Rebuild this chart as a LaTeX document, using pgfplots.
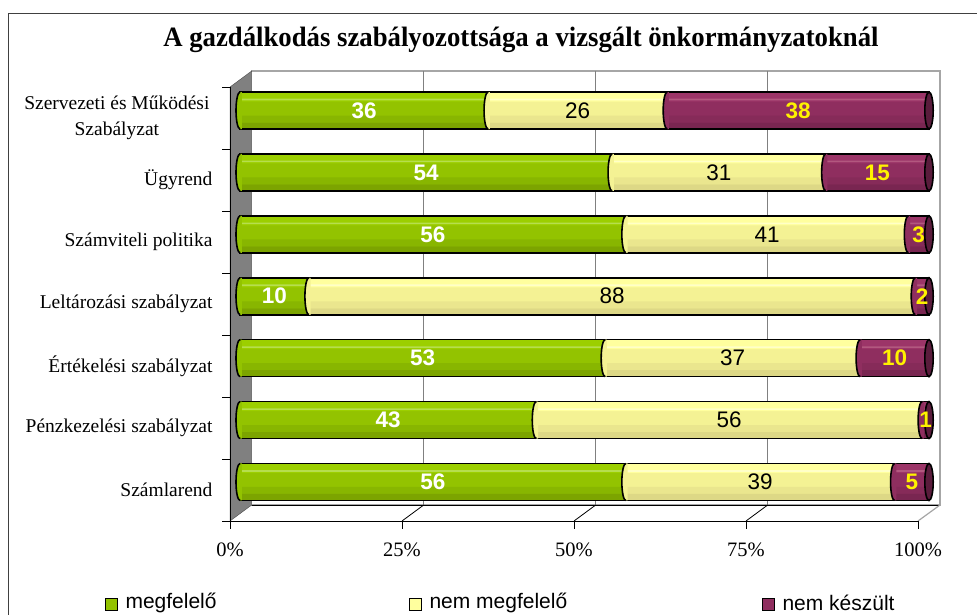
\documentclass[border=0pt]{standalone}
\usepackage{fontspec}
\setmainfont{Liberation Serif}
\setsansfont{Liberation Sans}
\usepackage{graphicx}
\usepackage{pgfplots}
\usepackage{pgfplotstable}
\pgfplotsset{compat=1.18}

% green
\definecolor{g1}{HTML}{9CCF00}
\definecolor{gh}{HTML}{B6DE4E}
\definecolor{g2}{HTML}{93C300}
\definecolor{g3}{HTML}{88B600}
\definecolor{g4}{HTML}{7CA400}
% yellow
\definecolor{y1}{HTML}{FFFF9E}
\definecolor{yh}{HTML}{FFFFC8}
\definecolor{y2}{HTML}{F4F294}
\definecolor{y3}{HTML}{EAE68E}
\definecolor{y4}{HTML}{DDD886}
% purple
\definecolor{p1}{HTML}{9C3568}
\definecolor{ph}{HTML}{B2587F}
\definecolor{p2}{HTML}{8F2E5F}
\definecolor{p3}{HTML}{862B59}
\definecolor{p4}{HTML}{792651}
\definecolor{capc}{HTML}{5A1C3C}
\definecolor{wallc}{HTML}{808080}
\definecolor{bwall}{HTML}{A6A6A6}

\pgfdeclareplotmark{lcap}{%
  \pgfpathmoveto{\pgfqpoint{1.8pt}{18.5pt}}%
  \pgfpathlineto{\pgfqpoint{0pt}{18.5pt}}%
  \pgfpatharc{90}{270}{4pt and 18.5pt}%
  \pgfpathlineto{\pgfqpoint{1.8pt}{-18.5pt}}%
  \pgfpathclose
  \pgfusepathqfill
  \pgfpathmoveto{\pgfqpoint{0pt}{18.5pt}}%
  \pgfpatharc{90}{270}{4pt and 18.5pt}%
  \pgfusepathqstroke
}
\pgfdeclareplotmark{rcap}{%
  \pgfpathellipse{\pgfpointorigin}{\pgfqpoint{4.2pt}{0pt}}{\pgfqpoint{0pt}{18.5pt}}%
  \pgfusepathqfillstroke
}

\pgfplotstableread{
y a b c
7 36 26 38
6 54 31 15
5 56 41 3
4 10 88 2
3 53 37 10
2 43 56 1
1 56 39 5
}\datatab

\pgfplotsset{
  geom/.style={
    at={(240pt,101.05pt)}, anchor=south west,
    scale only axis, width=689pt, height=433.4pt,
    xmin=0, xmax=100, ymin=0.5, ymax=7.5,
    hide axis, clip=false,
  }
}

\newcommand{\bandaxis}[5]{%
\begin{axis}[geom, xbar stacked, bar width=#1, bar shift=#2]
  \addplot[draw=none, fill=#3] table[x=a, y=y] {\datatab};
  \addplot[draw=none, fill=#4] table[x=b, y=y] {\datatab};
  \addplot[draw=none, fill=#5] table[x=c, y=y] {\datatab};
\end{axis}}

\begin{document}
\begin{tikzpicture}
\path[use as bounding box] (0,0) rectangle (977pt,614pt);
\begin{scope}[x=1pt, y=-1pt, yshift=614pt]
  % outer border
  \draw[black!75, line width=1pt] (8,620) -- (8,14) -- (980,14);
  % back wall
  \draw[bwall, line width=1.5pt, fill=white] (251.7,71) rectangle (940,505);
  \foreach \gx in {423.7,595.7,767.7} {
    \draw[wallc, line width=1pt] (\gx,71) -- (\gx,505);
  }
  % side wall
  \draw[black!70, fill=wallc] (230,87) -- (251.7,71) -- (251.7,505) -- (230,521) -- cycle;
  % floor
  \draw[black, line width=0.8pt] (251.7,505) -- (940,505);
  \draw[bwall, line width=1.2pt] (940,505) -- (918,521);
  \foreach \i in {1,2,3} {
    \draw[black, line width=0.8pt] ({230+172*\i},521) -- ({251.7+172*\i},505);
  }
  \draw[black, line width=0.8pt] (230,521) -- (918,521);
  \draw[black, line width=0.8pt] (230,87) -- (230,521);
  \foreach \k in {0,...,7} {
    \draw[black, line width=0.8pt] (222,{87+62*\k}) -- (230,{87+62*\k});
  }
  \foreach \i/\lab in {0/0\%,1/25\%,2/50\%,3/75\%,4/100\%} {
    \draw[black, line width=0.8pt] ({230+172*\i},521) -- ({230+172*\i},529);
    \node[font=\fontsize{20.5}{22}\selectfont, anchor=center] at ({230+172*\i},550) {\lab};
  }
  % category labels
  \node[font=\fontsize{19.5}{26.5}\selectfont, align=center, anchor=east] at (213,118) {Szervezeti és Működési\\Szabályzat};
  \node[font=\fontsize{19.5}{22}\selectfont, anchor=east] at (216,180) {Ügyrend};
  \node[font=\fontsize{19.5}{22}\selectfont, anchor=east] at (216,242) {Számviteli politika};
  \node[font=\fontsize{19.5}{22}\selectfont, anchor=east] at (216,304) {Leltározási szabályzat};
  \node[font=\fontsize{19.5}{22}\selectfont, anchor=east] at (216,366) {Értékelési szabályzat};
  \node[font=\fontsize{19.5}{22}\selectfont, anchor=east] at (216,428) {Pénzkezelési szabályzat};
  \node[font=\fontsize{19.5}{22}\selectfont, anchor=east] at (216,490) {Számlarend};
  % title
  \node[font=\bfseries\fontsize{28}{30}\selectfont, anchor=center] at (521,40) {\scalebox{0.955}[1]{A gazdálkodás szabályozottsága a vizsgált önkormányzatoknál}};
  % legend
  \draw[black, line width=1pt, fill=g2] (105,598) rectangle (117,610);
  \node[font=\sffamily\fontsize{21}{23}\selectfont, anchor=west] at (122,603) {megfelelő};
  \draw[black, line width=1pt, fill=y1] (409,598) rectangle (421,610);
  \node[font=\sffamily\fontsize{21}{23}\selectfont, anchor=west] at (426,603) {nem megfelelő};
  \draw[black, line width=1pt, fill=p2] (762,598) rectangle (774,610);
  \node[font=\sffamily\fontsize{21}{23}\selectfont, anchor=west] at (779,603) {nem készült};
\end{scope}

% bars in horizontal bands (cylinder look)
\bandaxis{37pt}{0pt}{g2}{y2}{p2}
\bandaxis{9.5pt}{13.75pt}{g1}{y1}{p1}
\bandaxis{1.6pt}{11pt}{gh}{yh}{ph}
\bandaxis{7pt}{-8.5pt}{g3}{y3}{p3}
\bandaxis{6.5pt}{-15.25pt}{g4}{y4}{p4}

% outline and caps
\begin{axis}[geom]
  \addplot[xbar, bar width=37pt, draw=black, fill=none, line width=1.6pt]
    coordinates {(100,1) (100,2) (100,3) (100,4) (100,5) (100,6) (100,7)};
  \addplot[only marks, mark=lcap, mark options={fill=g2, draw=black, line width=1.6pt}]
    coordinates {(0,1) (0,2) (0,3) (0,4) (0,5) (0,6) (0,7)};
  \addplot[only marks, mark=rcap, mark options={fill=capc, draw=black, line width=1.6pt}]
    coordinates {(100,1) (100,2) (100,3) (100,4) (100,5) (100,6) (100,7)};
\end{axis}

% segment boundaries
\begin{axis}[geom, xbar stacked, bar width=37pt]
  \addplot[draw=none, fill=none,
    mark=lcap, mark options={fill=y2, draw=black, line width=1.6pt}]
    table[x=a, y=y] {\datatab};
  \addplot[draw=none, fill=none,
    mark=lcap, mark options={fill=p2, draw=black, line width=1.6pt}]
    table[x=b, y=y] {\datatab};
\end{axis}

% labels
\begin{axis}[geom, xbar stacked, bar width=37pt,
  point meta=explicit,
  /pgf/number format/assume math mode=true,
  nodes near coords,
  every node near coord/.append style={anchor=center}]
  \addplot[draw=none, fill=none,
    every node near coord/.append style={text=white, font=\sffamily\bfseries\fontsize{22.5}{24}\selectfont}]
    table[x=a, y=y, meta=a] {\datatab};
  \addplot[draw=none, fill=none,
    every node near coord/.append style={text=black, font=\sffamily\fontsize{22.5}{24}\selectfont}]
    table[x=b, y=y, meta=b] {\datatab};
  \addplot[draw=none, fill=none,
    every node near coord/.append style={text=yellow, font=\sffamily\bfseries\fontsize{22.5}{24}\selectfont}]
    table[x=c, y=y, meta=c] {\datatab};
\end{axis}
\end{tikzpicture}
\end{document}
